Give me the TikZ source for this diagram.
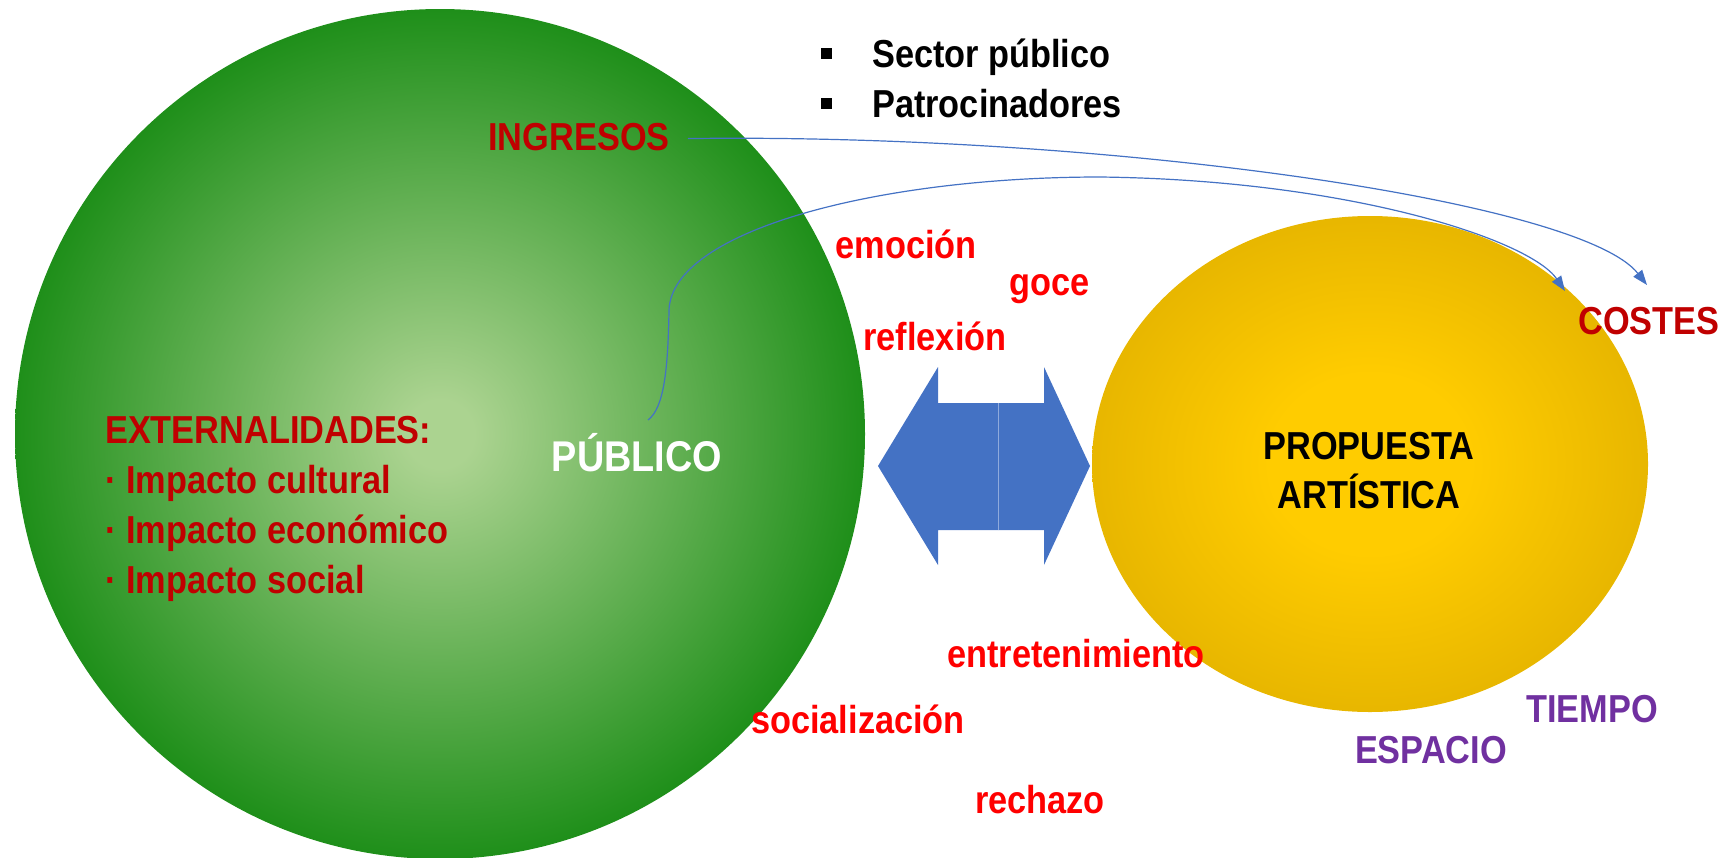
\documentclass[tikz,border=0pt]{standalone}
\usepackage{fontspec}
\setmainfont{Liberation Sans}[FakeStretch=0.88]
\usetikzlibrary{arrows.meta}
\definecolor{gl}{HTML}{ABD390}
\definecolor{gd}{HTML}{008000}
\definecolor{yl}{HTML}{FFCC00}
\definecolor{yd}{HTML}{D9A900}
\definecolor{dred}{HTML}{C00000}
\definecolor{bred}{HTML}{FF0000}
\definecolor{purp}{HTML}{7030A0}
\definecolor{ablue}{HTML}{4472C4}
\definecolor{seam}{HTML}{8FAADC}
\pgfdeclareradialshading{greenball}{\pgfpoint{0bp}{0bp}}{color(0bp)=(gl); color(2bp)=(gl); color(30bp)=(gd); color(50bp)=(gd)}
\pgfdeclareradialshading{yellowball}{\pgfpoint{0bp}{0bp}}{color(0bp)=(yl); color(9bp)=(yl); color(35bp)=(yd); color(50bp)=(yd)}
\tikzset{
  lbl/.style={inner sep=0pt, font=\fontsize{39}{47}\selectfont\bfseries},
  conn/.style={draw=ablue, line width=1.2pt, -{Triangle[length=15pt,width=11pt]}},
  bul/.style={fill=black, inner sep=0pt, minimum size=11pt}
}
\begin{document}
\begin{tikzpicture}[x=1pt,y=-1pt]
\useasboundingbox (0,0) rectangle (1727,857);
% big shapes
\shade[shading=greenball] (440,434) circle[radius=425pt];
\shade[shading=yellowball] (1370,464) ellipse[x radius=278pt, y radius=248pt];
% double arrow
\fill[ablue] (878,466) -- (938,367) -- (938,403) -- (998,403) -- (998,530) -- (938,530) -- (938,565) -- cycle;
\fill[ablue] (1090,466) -- (1044,367) -- (1044,403) -- (998,403) -- (998,530) -- (1044,530) -- (1044,565) -- cycle;
\draw[seam, line width=0.8pt] (998,403) -- (998,530);
% bullets
\node[bul] (b1) at (826,53) {};
\node[bul] (b2) at (826,103) {};
\node[lbl, anchor=base west] (sp) at (872,67) {Sector público};
\node[lbl, anchor=base west] (pa) at (872,117) {Patrocinadores};
% labels
\node[lbl, text=dred, anchor=base] (ing) at (579,150) {INGRESOS};
\node[lbl, text=dred, anchor=base west] (ext) at (105,443) {EXTERNALIDADES:};
\node[lbl, text=dred, anchor=base west] (ic) at (105,493) {· Impacto cultural};
\node[lbl, text=dred, anchor=base west] (ie) at (105,543) {· Impacto económico};
\node[lbl, text=dred, anchor=base west] (is) at (105,593) {· Impacto social};
\node[lbl, text=white, font=\fontsize{43}{50}\selectfont\bfseries, anchor=base] (pub) at (637,471) {PÚBLICO};
\node[lbl, text=black, anchor=base] (prop) at (1369,459) {PROPUESTA};
\node[lbl, text=black, anchor=base] (art) at (1369,508) {ARTÍSTICA};
\node[lbl, text=dred, anchor=base] (cos) at (1649,334) {COSTES};
\node[lbl, text=bred, anchor=base] (emo) at (906,258) {emoción};
\node[lbl, text=bred, anchor=base] (goc) at (1050,295) {goce};
\node[lbl, text=bred, anchor=base] (ref) at (935,350) {reflexión};
\node[lbl, text=bred, anchor=base] (ent) at (1076,667) {entretenimiento};
\node[lbl, text=bred, anchor=base] (soc) at (858,733) {socialización};
\node[lbl, text=bred, anchor=base] (rec) at (1040,813) {rechazo};
\node[lbl, text=purp, anchor=base] (tie) at (1592,722) {TIEMPO};
\node[lbl, text=purp, anchor=base] (esp) at (1431,763) {ESPACIO};
% connectors
\coordinate (t1) at (1647,285);
\coordinate (t2) at (1565,291);
\coordinate (p0) at (648,420);
\draw[conn] ([xshift=18pt,yshift=-2pt]ing.east) .. controls (1100,133) and (1580,200) .. (t1);
\draw[conn] (p0) .. controls (664,408) and (668,370) .. (669,310)
  .. controls (672,230) and (880,177) .. (1100,177)
  .. controls (1350,180) and (1530,240) .. (t2);
\end{tikzpicture}
\end{document}
